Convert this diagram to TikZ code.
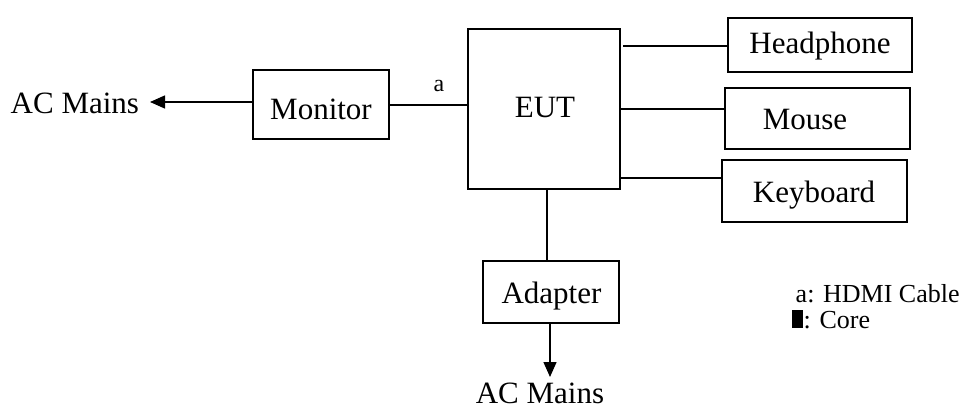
\documentclass[tikz,border=0pt]{standalone}
\usepackage{fontspec}
\setmainfont{Liberation Serif}
\usetikzlibrary{arrows.meta}
\begin{document}
\begin{tikzpicture}[x=1pt,y=-1pt, line width=1.4pt,
  box/.style={draw, line width=1.4pt, inner sep=0pt},
  big/.style={font=\fontsize{31}{36}\selectfont, inner sep=0pt, anchor=base},
  small/.style={font=\fontsize{26}{30}\selectfont, inner sep=0pt, anchor=base west},
  tip/.style={-{Triangle[length=15pt,width=13pt]}}]
\useasboundingbox (0,0) rectangle (963,412);
% boxes
\node[box, minimum width=136pt, minimum height=69pt] (mon) at (321,104.5) {};
\node[box, minimum width=152pt, minimum height=160pt] (eut) at (544,109) {};
\node[box, minimum width=184pt, minimum height=54pt] (hp) at (820,45) {};
\node[box, minimum width=185pt, minimum height=61pt] (mouse) at (817.5,118.5) {};
\node[box, minimum width=185pt, minimum height=62pt] (kb) at (814.5,191) {};
\node[box, minimum width=136pt, minimum height=62pt] (adp) at (551,292) {};
% texts
\node[big] (tmon) at (321,119) {Monitor};
\node[big] (teut) at (545,117) {EUT};
\node[big] (thp) at (820,53) {Headphone};
\node[big] (tmouse) at (805,129) {Mouse};
\node[big] (tkb) at (814,202) {Keyboard};
\node[big] (tadp) at (551.5,303) {Adapter};
\node[big, anchor=base west] (acl) at (10,113) {AC Mains};
\node[big] (acb) at (540,403) {AC Mains};
\node[font=\fontsize{24}{28}\selectfont, inner sep=0pt, anchor=base] (la) at (439,92) {a};
\node[small] (lega) at (795,302) {a: HDMI Cable};
\node[fill=black, inner sep=0pt, minimum width=11pt, minimum height=18pt] (core) at (797.5,319) {};
\node[small] (legc) at (803,328) {: Core};
% coordinates
\coordinate (tipl) at (150,102);
\coordinate (tipb) at (550,377);
\coordinate (vx) at (547,0);
% connectors
\draw[tip] (mon.west |- tipl) -- (tipl);
\draw (mon.east |- 0,105) -- (eut.west |- 0,105);
\draw (623,46) -- (hp.west |- 0,46);
\draw (eut.east |- 0,109) -- (mouse.west |- 0,109);
\draw (eut.east |- 0,178) -- (kb.west |- 0,178);
\draw (eut.south -| vx) -- (adp.north -| vx);
\draw[tip] (adp.south -| tipb) -- (tipb);
\end{tikzpicture}
\end{document}
